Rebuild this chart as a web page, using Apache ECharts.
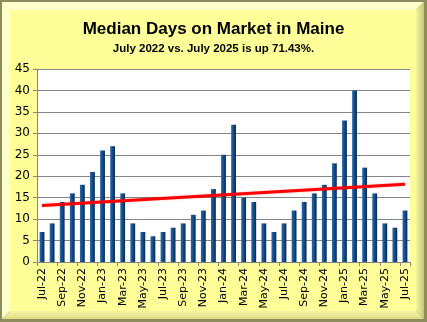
<!DOCTYPE html>
<html>
<head>
<meta charset="utf-8">
<script src="https://cdn.jsdelivr.net/npm/echarts@6/dist/echarts.min.js"></script>
<style>
  html, body { margin: 0; padding: 0; background: #ffff99; }
  #chart { width: 427px; height: 322px; }
</style>
</head>
<body>
<div id="chart"></div>
<script>
// Monthly median days on market, Maine, Jul 2022 – Jul 2025
const months = [
  'Jul-22','Aug-22','Sep-22','Oct-22','Nov-22','Dec-22',
  'Jan-23','Feb-23','Mar-23','Apr-23','May-23','Jun-23',
  'Jul-23','Aug-23','Sep-23','Oct-23','Nov-23','Dec-23',
  'Jan-24','Feb-24','Mar-24','Apr-24','May-24','Jun-24',
  'Jul-24','Aug-24','Sep-24','Oct-24','Nov-24','Dec-24',
  'Jan-25','Feb-25','Mar-25','Apr-25','May-25','Jun-25','Jul-25'
];
const medianDays = [
  7, 9, 14, 16, 18, 21,
  26, 27, 16, 9, 7, 6,
  7, 8, 9, 11, 12, 17,
  25, 32, 15, 14, 9, 7,
  9, 12, 14, 16, 18, 23,
  33, 40, 22, 16, 9, 8, 12
];
// Linear trend line: value at first and last month
const trendEnds = [13.2, 18.1];
const yTicks = { min: 0, max: 45, step: 5 };

const chart = echarts.init(document.getElementById('chart'));
const W = 427, H = 322;
const lastIdx = months.length - 1;

chart.setOption({
  animation: false,
  backgroundColor: '#ffff99',
  graphic: [
    // outer frame
    { type: 'rect', z: -20, silent: true, shape: { x: 0, y: 0, width: W, height: H },
      style: { fill: '#8c8c5c' } },
    // light top/left bevel
    { type: 'polygon', z: -19, silent: true,
      shape: { points: [[2, 2], [W - 3, 2], [W - 11, 10], [10, 10], [10, H - 11], [2, H - 3]] },
      style: { fill: '#ffffcc' } },
    // darker right bevel
    { type: 'polygon', z: -19, silent: true,
      shape: { points: [[W - 3, 2], [W - 3, H - 3], [W - 11, H - 11], [W - 11, 10]] },
      style: { fill: new echarts.graphic.LinearGradient(0, 0, 1, 0, [
        { offset: 0, color: '#f4f49a' }, { offset: 1, color: '#c8c874' }]) } },
    // bottom bevel
    { type: 'polygon', z: -19, silent: true,
      shape: { points: [[2, H - 3], [W - 3, H - 3], [W - 11, H - 11], [10, H - 11]] },
      style: { fill: new echarts.graphic.LinearGradient(0, 0, 0, 1, [
        { offset: 0, color: '#f4f4a4' }, { offset: 1, color: '#dcdc88' }]) } },
    // face
    { type: 'rect', z: -18, silent: true, shape: { x: 10, y: 10, width: W - 21, height: H - 21 },
      style: { fill: '#ffff99' } }
  ],
  title: {
    text: 'Median Days on Market in Maine',
    subtext: 'July 2022 vs. July 2025 is up 71.43%.',
    left: 'center',
    top: 16,
    itemGap: 5,
    textStyle: { fontFamily: 'Liberation Sans', fontWeight: 'bold', fontSize: 17, color: '#000' },
    subtextStyle: { fontFamily: 'Liberation Sans', fontWeight: 'bold', fontSize: 11.5, color: '#000' }
  },
  grid: {
    left: 37, right: 17, top: 69, bottom: 60,
    show: true, backgroundColor: '#ffffff', borderWidth: 0
  },
  xAxis: {
    type: 'category',
    data: months,
    boundaryGap: true,
    axisLine: { lineStyle: { color: '#868686', width: 1 } },
    axisTick: { show: true, interval: 1, length: 4, lineStyle: { color: '#868686' } },
    axisLabel: {
      interval: 1, rotate: 90, color: '#000', fontSize: 11,
      fontFamily: 'DejaVu Sans', margin: 6
    },
    splitLine: { show: false }
  },
  yAxis: {
    type: 'value',
    min: yTicks.min, max: yTicks.max, interval: yTicks.step,
    axisLine: { show: true, lineStyle: { color: '#868686', width: 1 } },
    axisTick: { show: true, length: 4, lineStyle: { color: '#868686' } },
    axisLabel: { color: '#000', fontSize: 12, fontFamily: 'DejaVu Sans', margin: 7 },
    splitLine: { lineStyle: { color: '#868686', width: 1 } }
  },
  series: [
    {
      type: 'bar',
      data: medianDays,
      barWidth: '48%',
      itemStyle: {
        color: new echarts.graphic.LinearGradient(0, 0, 1, 0, [
          { offset: 0, color: '#2a6bab' },
          { offset: 0.35, color: '#1a5592' },
          { offset: 1, color: '#082a52' }
        ]),
        borderColor: '#5b8fc6',
        borderWidth: 0
      },
      z: 2
    },
    {
      type: 'line',
      data: [[0, trendEnds[0]], [lastIdx, trendEnds[1]]],
      symbol: 'none',
      lineStyle: { color: '#ff0000', width: 3, shadowColor: 'rgba(255,0,0,0.35)', shadowBlur: 2 },
      z: 3
    }
  ]
});
</script>
</body>
</html>
